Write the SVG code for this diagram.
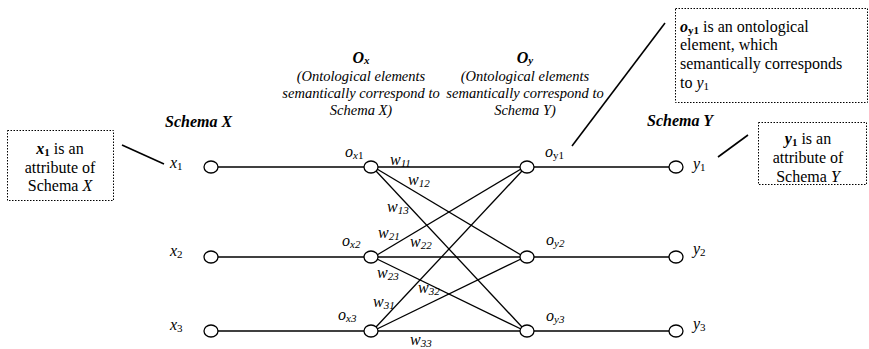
<svg xmlns="http://www.w3.org/2000/svg" width="869" height="349" viewBox="0 0 869 349" font-family="Liberation Serif, serif">
<style>
text{font-size:16px;fill:#000}
.i{font-style:italic}
.b{font-weight:bold}
.sub{font-size:11px}
.w{font-size:15px}
.h{font-size:14.5px}
.n{fill:#fff;stroke:#000;stroke-width:1.3}
.e{stroke:#000;stroke-width:1.3;fill:none}
.box{fill:#fff;stroke:#000;stroke-width:1;stroke-dasharray:1.5 1.5}
.lead{stroke:#000;stroke-width:1.6}
</style>
<rect width="869" height="349" fill="#fff"/>
<g id="connectors">
<line class="e" x1="218" y1="167" x2="364" y2="167"/>
<line class="e" x1="218" y1="257" x2="364" y2="257"/>
<line class="e" x1="218" y1="331" x2="364" y2="331"/>
<line class="e" x1="534" y1="167" x2="669" y2="167"/>
<line class="e" x1="534" y1="257" x2="669" y2="257"/>
<line class="e" x1="534" y1="331" x2="669" y2="331"/>
<line class="e" x1="378" y1="167" x2="520" y2="167"/>
<line class="e" x1="377" y1="169" x2="521" y2="255"/>
<line class="e" x1="376" y1="171" x2="522" y2="327"/>
<line class="e" x1="377" y1="255" x2="521" y2="169"/>
<line class="e" x1="378" y1="257" x2="520" y2="257"/>
<line class="e" x1="377" y1="259" x2="521" y2="329"/>
<line class="e" x1="376" y1="327" x2="522" y2="171"/>
<line class="e" x1="377" y1="329" x2="521" y2="259"/>
<line class="e" x1="378" y1="331" x2="520" y2="331"/>
<line class="lead" x1="122" y1="145" x2="164" y2="164"/>
<line class="lead" x1="665" y1="23" x2="572" y2="146"/>
<line class="lead" x1="748" y1="135" x2="718" y2="157"/>
</g>
<g id="weights" class="i w">
<text x="390" y="165">w<tspan class="sub" dy="2">11</tspan></text>
<text x="408" y="185">w<tspan class="sub" dy="2">12</tspan></text>
<text x="387" y="212">w<tspan class="sub" dy="2">13</tspan></text>
<text x="378" y="238">w<tspan class="sub" dy="2">21</tspan></text>
<text x="410" y="247">w<tspan class="sub" dy="2">22</tspan></text>
<text x="377" y="278">w<tspan class="sub" dy="2">23</tspan></text>
<text x="373" y="307">w<tspan class="sub" dy="2">31</tspan></text>
<text x="418" y="293">w<tspan class="sub" dy="2">32</tspan></text>
<text x="410" y="345">w<tspan class="sub" dy="2">33</tspan></text>
</g>
<g id="x1"><ellipse class="n" cx="211" cy="167" rx="7" ry="6"/><text class="i" x="170" y="168">x<tspan class="sub" font-style="normal" dy="2">1</tspan></text></g>
<g id="x2"><ellipse class="n" cx="211" cy="257" rx="7" ry="6"/><text class="i" x="170" y="256">x<tspan class="sub" font-style="normal" dy="2">2</tspan></text></g>
<g id="x3"><ellipse class="n" cx="211" cy="331" rx="7" ry="6"/><text class="i" x="170" y="330">x<tspan class="sub" font-style="normal" dy="2">3</tspan></text></g>
<g id="ox1"><ellipse class="n" cx="371" cy="167" rx="7" ry="6"/><text class="i" x="345" y="157">o<tspan class="sub" dy="2">x</tspan><tspan class="sub" font-style="normal">1</tspan></text></g>
<g id="ox2"><ellipse class="n" cx="371" cy="257" rx="7" ry="6"/><text class="i" x="342" y="246">o<tspan class="sub" dy="2">x2</tspan></text></g>
<g id="ox3"><ellipse class="n" cx="371" cy="331" rx="7" ry="6"/><text class="i" x="338" y="320">o<tspan class="sub" dy="2">x3</tspan></text></g>
<g id="oy1"><ellipse class="n" cx="527" cy="167" rx="7" ry="6"/><text class="i" x="545" y="157">o<tspan class="sub" font-style="normal" dy="2">y1</tspan></text></g>
<g id="oy2"><ellipse class="n" cx="527" cy="257" rx="7" ry="6"/><text class="i" x="546" y="245">o<tspan class="sub" dy="2">y2</tspan></text></g>
<g id="oy3"><ellipse class="n" cx="527" cy="331" rx="7" ry="6"/><text class="i" x="546" y="321">o<tspan class="sub" dy="2">y3</tspan></text></g>
<g id="y1"><ellipse class="n" cx="676" cy="167" rx="7" ry="6"/><text class="i" x="693" y="169">y<tspan class="sub" font-style="normal" dy="2">1</tspan></text></g>
<g id="y2"><ellipse class="n" cx="676" cy="257" rx="7" ry="6"/><text class="i" x="693" y="254">y<tspan class="sub" font-style="normal" dy="2">2</tspan></text></g>
<g id="y3"><ellipse class="n" cx="676" cy="331" rx="7" ry="6"/><text class="i" x="693" y="329">y<tspan class="sub" font-style="normal" dy="2">3</tspan></text></g>
<g id="schemaX"><text class="b i" x="165" y="127" font-size="17">Schema X</text></g>
<g id="schemaY"><text class="b i" x="647" y="126" font-size="17">Schema Y</text></g>
<g id="Ox" class="i" text-anchor="middle">
<text class="b" x="361" y="63" font-size="17">O<tspan font-size="11" dy="1">x</tspan></text>
<text class="h" x="361" y="81">(Ontological elements</text>
<text class="h" x="361" y="98">semantically correspond to</text>
<text class="h" x="361" y="115">Schema X)</text>
</g>
<g id="Oy" class="i" text-anchor="middle">
<text class="b" x="525" y="63" font-size="17">O<tspan font-size="11" dy="1">y</tspan></text>
<text class="h" x="525" y="81">(Ontological elements</text>
<text class="h" x="525" y="98">semantically correspond to</text>
<text class="h" x="525" y="115">Schema Y)</text>
</g>
<g id="noteX">
<rect class="box" x="7.5" y="130.5" width="106" height="70"/>
<text x="60" y="154" text-anchor="middle"><tspan class="b i">x</tspan><tspan class="b sub" dy="2">1</tspan><tspan dy="-2"> is  an</tspan></text>
<text x="60" y="173" text-anchor="middle">attribute of</text>
<text x="60" y="191" text-anchor="middle">Schema <tspan class="i">X</tspan></text>
</g>
<g id="noteOy1">
<rect class="box" x="675.5" y="8.5" width="192" height="94"/>
<text x="680" y="32"><tspan class="b i">o</tspan><tspan class="b sub" dy="2">y1</tspan><tspan dy="-2"> is an ontological</tspan></text>
<text x="680" y="50">element, which</text>
<text x="680" y="69">semantically corresponds</text>
<text x="680" y="88">to <tspan class="i">y</tspan><tspan class="sub" dy="2">1</tspan></text>
</g>
<g id="noteY">
<rect class="box" x="758.5" y="122.5" width="108" height="62"/>
<text x="808" y="144" text-anchor="middle"><tspan class="b i">y</tspan><tspan class="b sub" dy="2">1</tspan><tspan dy="-2"> is  an</tspan></text>
<text x="808" y="163" text-anchor="middle">attribute of</text>
<text x="808" y="182" text-anchor="middle">Schema <tspan class="i">Y</tspan></text>
</g>
</svg>
